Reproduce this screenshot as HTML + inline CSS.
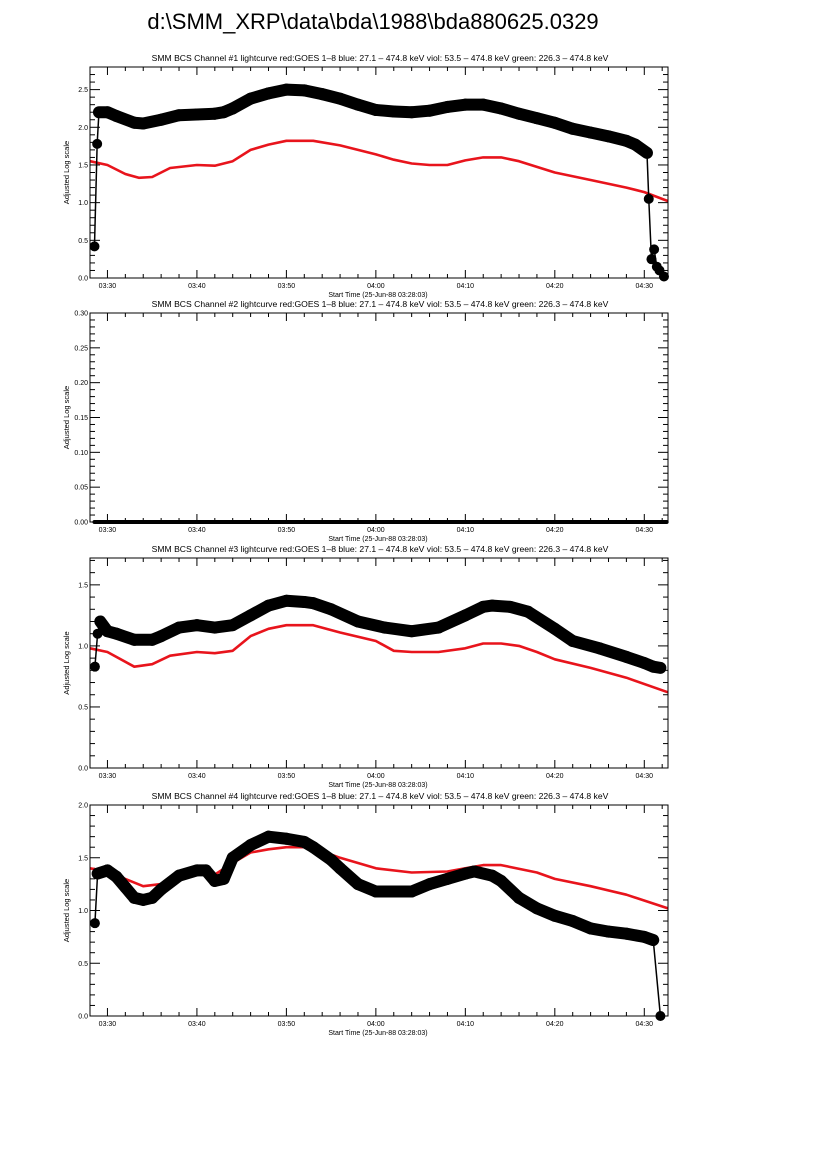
<!DOCTYPE html>
<html><head><meta charset="utf-8">
<style>
html,body{margin:0;padding:0;background:#fff;}
svg{display:block;font-family:"Liberation Sans",sans-serif;}
</style></head>
<body>
<svg id="chart" width="826" height="1169" viewBox="0 0 826 1169" xmlns="http://www.w3.org/2000/svg">
<rect width="826" height="1169" fill="#fff"/>
<text x="373" y="29" font-size="22" text-anchor="middle" fill="#000">d:\SMM_XRP\data\bda\1988\bda880625.0329</text>
</svg>
<script>
// times in minutes after 03:00
const xTickLabels = ["03:30","03:40","03:50","04:00","04:10","04:20","04:30"];
const xTickTimes = [30,40,50,60,70,80,90];

const p1BlackT = [28.55,28.85,29.05,30,31,33,34,36,38,40,42,43,44,46,48,50,52,54,56,58,60,62,64,66,68,70,72,74,76,78,80,82,84,86,88,89,90.3,90.5,90.8,91.1,91.4,91.7,92.2];
const p1BlackV = [0.42,1.78,2.2,2.2,2.15,2.06,2.05,2.1,2.16,2.17,2.18,2.2,2.25,2.38,2.45,2.5,2.49,2.44,2.38,2.3,2.23,2.21,2.2,2.22,2.27,2.3,2.3,2.25,2.18,2.12,2.06,1.98,1.93,1.88,1.82,1.77,1.66,1.05,0.25,0.38,0.15,0.1,0.02];
const p1RedT = [28.05,30,32,33.5,35,37,40,42,44,46,48,50,53,56,60,62,64,66,68,70,72,74,76,80,84,88,90,92.65];
const p1RedV = [1.55,1.5,1.38,1.33,1.34,1.46,1.5,1.49,1.55,1.7,1.77,1.82,1.82,1.76,1.64,1.57,1.52,1.5,1.5,1.56,1.6,1.6,1.55,1.4,1.3,1.2,1.14,1.02];

const p2BlackT = [28.55,40,50,60,70,80,90,92.5];
const p2BlackV = [0,0,0,0,0,0,0,0];

const p3BlackT = [28.6,28.9,29.2,30,31,33,35,36,38,40,42,44,46,48,50,52,53,55,58,61,64,67,70,72,73,75,77,80,82,85,88,90,91,91.8];
const p3BlackV = [0.83,1.1,1.2,1.12,1.1,1.05,1.05,1.08,1.15,1.17,1.15,1.17,1.25,1.33,1.37,1.36,1.35,1.3,1.2,1.15,1.12,1.15,1.25,1.32,1.33,1.32,1.28,1.14,1.04,0.98,0.91,0.86,0.83,0.82,0.0];
const p3RedT = [28.05,30,33,35,37,40,42,44,46,48,50,53,56,60,62,64,67,70,72,74,76,78,80,84,88,92.65];
const p3RedV = [0.98,0.95,0.83,0.85,0.92,0.95,0.94,0.96,1.08,1.14,1.17,1.17,1.11,1.04,0.96,0.95,0.95,0.98,1.02,1.02,1.0,0.95,0.89,0.82,0.74,0.62];

const p4BlackT = [28.6,28.9,30,31,32,33,34,35,36,38,40,41,42,43,44,46,48,50,52,53,55,56,58,60,62,64,66,68,70,71,73,74,76,78,80,82,84,86,88,90,91,91.8];
const p4BlackV = [0.88,1.35,1.38,1.32,1.22,1.12,1.1,1.12,1.2,1.33,1.38,1.38,1.28,1.3,1.5,1.62,1.7,1.68,1.65,1.6,1.48,1.4,1.25,1.18,1.18,1.18,1.25,1.3,1.35,1.37,1.33,1.28,1.12,1.02,0.95,0.9,0.83,0.8,0.78,0.75,0.72,0.0];
const p4RedT = [28.05,30,32,34,36,38,40,42,44,46,48,50,52,54,56,60,64,68,70,72,74,78,80,84,88,92.65];
const p4RedV = [1.4,1.37,1.3,1.23,1.25,1.33,1.36,1.34,1.45,1.55,1.58,1.6,1.6,1.56,1.5,1.4,1.36,1.37,1.4,1.43,1.43,1.36,1.3,1.23,1.15,1.02];

const panels = [
  {n:1, top:67, bottom:278, ymax:2.8, major:0.5, minor:0.1, dec:1, bT:p1BlackT, bV:p1BlackV, rT:p1RedT, rV:p1RedV},
  {n:2, top:313, bottom:522, ymax:0.30, major:0.05, minor:0.01, dec:2, bT:p2BlackT, bV:p2BlackV, rT:null, rV:null},
  {n:3, top:558, bottom:768, ymax:1.72, major:0.5, minor:0.1, dec:1, bT:p3BlackT, bV:p3BlackV, rT:p3RedT, rV:p3RedV},
  {n:4, top:805, bottom:1016, ymax:2.0, major:0.5, minor:0.1, dec:1, bT:p4BlackT, bV:p4BlackV, rT:p4RedT, rV:p4RedV}
];

const NS = "http://www.w3.org/2000/svg";
const svg = document.getElementById('chart');
const X0 = 90, X1 = 668, T0 = 28.05, T1 = 92.65;
function xs(t){ return X0 + (t - T0) / (T1 - T0) * (X1 - X0); }
function mk(tag, attrs, parent){
  const e = document.createElementNS(NS, tag);
  for (const k in attrs) e.setAttribute(k, attrs[k]);
  (parent || svg).appendChild(e);
  return e;
}

panels.forEach(p => {
  const g = mk('g', {});
  
  
  const ys = v => p.bottom - v / p.ymax * (p.bottom - p.top);

  const st = mk('text', {x: 380, y: p.top - 6, 'font-size': 8.6, 'text-anchor': 'middle', fill: '#000'}, g);
  st.textContent = 'SMM BCS Channel #' + p.n + ' lightcurve  red:GOES 1\u20138  blue: 27.1 \u2013 474.8 keV  viol: 53.5 \u2013 474.8 keV  green: 226.3 \u2013 474.8 keV';
  
  

  const yt = mk('text', {x: 0, y: 0, 'font-size': 7.5, 'text-anchor': 'middle', fill: '#000', transform: 'translate(69,' + ((p.top + p.bottom) / 2) + ') rotate(-90)'}, g);
  yt.textContent = 'Adjusted Log scale';
  
  

  const xt = mk('text', {x: 378, y: p.bottom + 19, 'font-size': 7, 'text-anchor': 'middle', fill: '#000'}, g);
  xt.textContent = 'Start Time (25-Jun-88 03:28:03)';
  
  

  for (let t = 30; t <= 92; t += 2) {
    const x = xs(t);
    const len = (t % 10 === 0) ? 8 : 4;
    mk('line', {x1: x, x2: x, y1: p.bottom, y2: p.bottom - len, stroke: '#000', 'stroke-width': 1}, g);
    mk('line', {x1: x, x2: x, y1: p.top, y2: p.top + len, stroke: '#000', 'stroke-width': 1}, g);
  }
  xTickTimes.forEach((t, i) => {
    const lb = mk('text', {x: xs(t), y: p.bottom + 10, 'font-size': 7, 'text-anchor': 'middle', fill: '#000'}, g);
    lb.textContent = xTickLabels[i];
    
    
  });
  const nMinor = Math.floor(p.ymax / p.minor + 1e-6);
  for (let i = 0; i <= nMinor; i++) {
    const v = i * p.minor;
    const y = ys(v);
    const isMajor = Math.abs(v / p.major - Math.round(v / p.major)) < 1e-6;
    const len = isMajor ? 10 : 5;
    mk('line', {x1: X0, x2: X0 + len, y1: y, y2: y, stroke: '#000', 'stroke-width': 1}, g);
    mk('line', {x1: X1, x2: X1 - len, y1: y, y2: y, stroke: '#000', 'stroke-width': 1}, g);
    if (isMajor) {
      const lb = mk('text', {x: X0 - 2, y: y + 2.5, 'font-size': 7, 'text-anchor': 'end', fill: '#000'}, g);
      lb.textContent = v.toFixed(p.dec);
      
      
    }
  }

  if (p.rT) {
    const pts = p.rT.map((t, i) => xs(t).toFixed(1) + ',' + ys(p.rV[i]).toFixed(1)).join(' ');
    const rl = mk('polyline', {points: pts, fill: 'none', stroke: '#e8141c', 'stroke-width': 2.6, 'stroke-linejoin': 'round'}, g);
    
    
  }

  const bg = mk('g', {}, g);
  
  
  for (let i = 0; i < p.bT.length - 1; i++) {
    const dv = Math.abs(p.bV[i + 1] - p.bV[i]);
    const dt = p.bT[i + 1] - p.bT[i];
    const thick = dv < 0.2 && dt >= 0.7 && p.n !== 2;
    mk('line', {x1: xs(p.bT[i]), y1: ys(p.bV[i]), x2: xs(p.bT[i + 1]), y2: ys(p.bV[i + 1]), stroke: '#000', 'stroke-width': thick ? 12 : (p.n === 2 ? 4 : 1.5), 'stroke-linecap': 'round'}, bg);
  }
  p.bT.forEach((t, i) => {
    if (p.n === 2) return;
    const c = mk('circle', {cx: xs(t), cy: ys(p.bV[i]), r: 5, fill: '#000'}, bg);
    
    
  });

  const fr = mk('rect', {x: X0, y: p.top, width: X1 - X0, height: p.bottom - p.top, fill: 'none', stroke: '#000', 'stroke-width': 1}, g);
  
  
});
</script>
</body></html>
